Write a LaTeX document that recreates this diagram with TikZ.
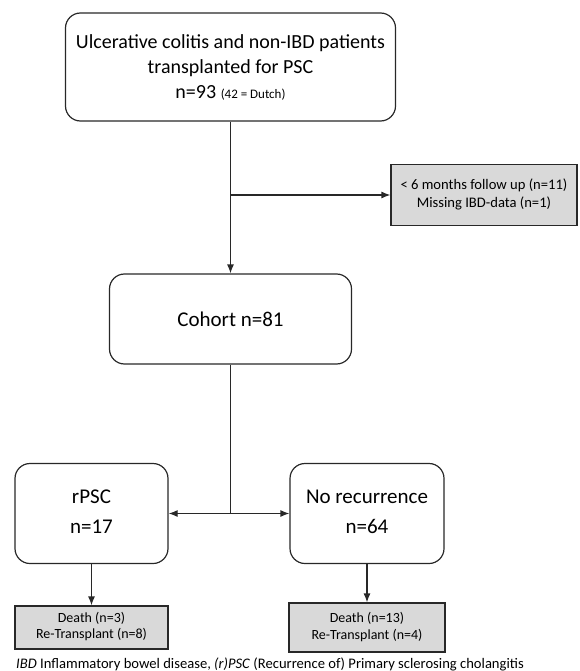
\documentclass[tikz,border=0pt]{standalone}
\usepackage{fontspec}
\setmainfont{Carlito}
\usetikzlibrary{arrows.meta}
\definecolor{boxgray}{RGB}{217,217,217}
\definecolor{linecol}{RGB}{40,40,40}
\begin{document}
\begin{tikzpicture}[x=1pt,y=-1pt,
  rbox/.style={draw=linecol, line width=1.2pt, rounded corners=15pt, align=center, inner sep=0pt},
  gbox/.style={draw=linecol, line width=1.2pt, fill=boxgray, align=center, inner sep=0pt},
  conn/.style={draw=linecol, line width=1.2pt},
  arr/.style={conn, -{Latex[length=9pt,width=7pt]}},
]
\useasboundingbox (0,0) rectangle (579,671);

\node[rbox, minimum width=330pt, minimum height=108pt, font=\fontsize{20}{25}\selectfont] (top) at (230.5,67)
  {Ulcerative colitis and non-IBD patients\\
   transplanted for PSC\\
   n=93 {\fontsize{13}{25}\selectfont (42 = Dutch)}};

\node[gbox, minimum width=186pt, minimum height=61pt, font=\fontsize{14.6}{18}\selectfont] (side) at (484,195)
  {\raisebox{-2pt}{\begin{tabular}{@{}c@{}}< 6 months follow up (n=11)\\ Missing IBD-data (n=1)\end{tabular}}};

\node[rbox, minimum width=242pt, minimum height=90pt, font=\fontsize{21}{25}\selectfont] (cohort) at (230.5,319)
  {\raisebox{-4pt}{Cohort n=81}};

\node[rbox, minimum width=153pt, minimum height=100pt, font=\fontsize{21}{27}\selectfont] (rpsc) at (91.5,513.5)
  {\raisebox{4pt}{\begin{tabular}{@{}c@{}}rPSC\\[3pt] n=17\end{tabular}}};

\node[rbox, minimum width=154pt, minimum height=100pt, font=\fontsize{21}{27}\selectfont] (norec) at (367,513.5)
  {\raisebox{4pt}{\begin{tabular}{@{}c@{}}No recurrence\\[3pt] n=64\end{tabular}}};

\node[gbox, minimum width=153pt, minimum height=43pt, font=\fontsize{14}{17}\selectfont] (d1) at (91.5,627.5)
  {\begin{tabular}{@{}c@{}}Death (n=3)\\[-1pt] Re-Transplant (n=8)\end{tabular}};

\node[gbox, minimum width=156pt, minimum height=49pt, font=\fontsize{14}{17}\selectfont] (d2) at (367,627.5)
  {\begin{tabular}{@{}c@{}}Death (n=13)\\[0pt] Re-Transplant (n=4)\end{tabular}};

\node[anchor=west, inner sep=0pt, font=\fontsize{14.6}{16}\selectfont] (cap) at (16,664)
  {\textit{IBD} Inflammatory bowel disease, \textit{(r)PSC} (Recurrence of) Primary sclerosing cholangitis};

\coordinate (br) at (230.5,195);
\coordinate (sp) at (230.5,513.5);

\draw[arr] (top.south) -- (cohort.north);
\draw[arr] (br) -- (side.west);
\draw[conn] (cohort.south) -- (sp);
\draw[arr] (sp) -- (rpsc.east);
\draw[arr] (sp) -- (norec.west);
\draw[arr] (rpsc.south) -- (d1.north);
\draw[arr] (norec.south) -- (d2.north);
\end{tikzpicture}
\end{document}
